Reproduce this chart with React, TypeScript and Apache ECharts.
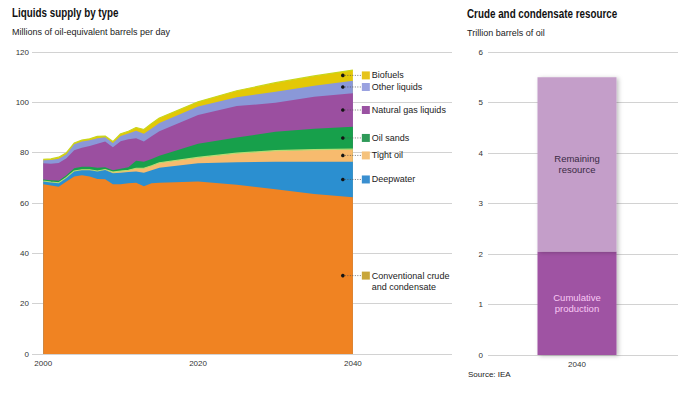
import React, { useEffect, useRef } from "react";
import * as echarts from "echarts";

// ---------- data ----------
const years = [2000, 2001, 2002, 2003, 2004, 2005, 2006, 2007, 2008, 2009, 2010, 2011, 2012, 2013, 2014, 2015, 2020, 2025, 2030, 2035, 2040];
const conventional = [67.5, 67.0, 66.5, 68.5, 70.5, 71.0, 70.5, 69.5, 69.4, 67.5, 67.5, 67.8, 68.0, 66.7, 67.8, 68.0, 68.5, 67.3, 65.5, 63.6, 62.3];
const deepwater = [1.0, 1.1, 1.3, 1.4, 2.0, 2.0, 2.5, 3.0, 3.7, 4.3, 4.5, 4.5, 4.5, 5.3, 5.2, 6.0, 7.3, 8.9, 10.9, 12.8, 14.1];
const tightOil = [0.2, 0.2, 0.2, 0.2, 0.2, 0.2, 0.2, 0.2, 0.2, 0.5, 0.7, 0.7, 1.3, 1.8, 1.8, 2.0, 2.3, 3.6, 4.4, 4.8, 5.0];
const oilSands = [0.6, 0.7, 0.8, 0.9, 1.1, 1.2, 1.2, 1.3, 0.9, 0.7, 0.9, 1.2, 3.0, 2.6, 2.7, 2.8, 5.4, 6.2, 7.5, 8.3, 8.9];
const naturalGasLiquids = [6.5, 6.6, 7.1, 6.8, 7.2, 7.6, 8.2, 9.5, 10.2, 9.2, 10.9, 11.1, 8.9, 8.0, 9.0, 9.7, 11.5, 12.5, 11.5, 12.7, 13.3];
const otherLiquids = [1.2, 1.5, 1.7, 1.6, 2.3, 2.4, 2.3, 2.2, 1.7, 1.6, 2.1, 2.3, 3.0, 3.1, 3.1, 3.3, 3.3, 3.5, 4.4, 4.4, 5.0];
const biofuels = [0.3, 0.4, 0.6, 0.6, 0.5, 0.6, 0.6, 0.8, 0.5, 0.6, 0.9, 0.9, 1.3, 1.7, 2.0, 2.0, 1.9, 2.6, 3.6, 3.9, 4.2];

const leftTicks = [2000, 2020, 2040];

const resourceCategories = ["2040"];
const cumulativeProduction = [2.05];
const remainingResource = [3.45];

// ---------- styling ----------
const FONT = "'Liberation Sans', Arial, Helvetica, sans-serif";

const areaSeriesDefs = [
  { name: "Conventional crude\nand condensate", data: conventional, color: "#f08322", key: "#c8a63a", edge: null as string | null },
  { name: "Deepwater", data: deepwater, color: "#2b8fd0", key: "#3a8fd0", edge: null },
  { name: "Tight oil", data: tightOil, color: "#f7bb6e", key: "#f5c27c", edge: "#b6dc74" },
  { name: "Oil sands", data: oilSands, color: "#17a04b", key: "#2e9a58", edge: null },
  { name: "Natural gas liquids", data: naturalGasLiquids, color: "#9b4fa0", key: "#9a52a2", edge: null },
  { name: "Other liquids", data: otherLiquids, color: "#8a98d8", key: "#9aa2e0", edge: null },
  { name: "Biofuels", data: biofuels, color: "#e3c806", key: "#e6c31a", edge: "#c9d61c" },
];

export default function App() {
  const ref = useRef<HTMLDivElement>(null);

  useEffect(() => {
    document.body.style.margin = "0";
    if (!ref.current) return;
    const chart = echarts.init(ref.current, null, { renderer: "svg" });

    const axisLabelStyle = { fontSize: 8, color: "#333", fontFamily: FONT };

    // cumulative tops (stack built from the data arrays)
    const running = years.map(() => 0);
    const n = areaSeriesDefs.length;
    const areaSeries = areaSeriesDefs.map((s, idx) => {
      const tops = years.map((y, i) => {
        running[i] += s.data[i];
        return [y, +running[i].toFixed(3)];
      });
      return {
        type: "line",
        name: s.name,
        xAxisIndex: 0,
        yAxisIndex: 0,
        symbol: "none",
        lineStyle: s.edge ? { width: 1.2, color: s.edge } : { width: 0 },
        areaStyle: { color: s.color, opacity: 1 },
        itemStyle: { color: s.color },
        data: tops,
        z: 2 + (n - idx),
      };
    });

    const option: any = {
      animation: false,
      backgroundColor: "#ffffff",
      grid: [
        { left: 32, right: 248, top: 52, bottom: 43 },
        { left: 488, right: 22, top: 52, bottom: 42 },
        { left: 488, width: 178, top: 52, bottom: 42 },
      ],
      xAxis: [
        {
          type: "value",
          gridIndex: 0,
          min: 1998.55,
          max: 2052.8,
          axisLine: { show: false },
          axisTick: { show: false },
          splitLine: { show: false },
          axisLabel: { ...axisLabelStyle, margin: 5, customValues: leftTicks, formatter: (v: number) => String(v) },
        },
        { type: "value", gridIndex: 1, show: false },
        {
          type: "category",
          gridIndex: 2,
          data: resourceCategories,
          axisLine: { show: false },
          axisTick: { show: false },
          axisLabel: { ...axisLabelStyle, margin: 5 },
        },
      ],
      yAxis: [
        {
          type: "value",
          gridIndex: 0,
          min: 0,
          max: 120,
          interval: 20,
          axisLine: { show: false },
          axisTick: { show: false },
          axisLabel: { ...axisLabelStyle, margin: 3 },
          splitLine: { lineStyle: { color: "#d2d2d2", width: 1 } },
        },
        {
          type: "value",
          gridIndex: 1,
          min: 0,
          max: 6,
          interval: 1,
          axisLine: { show: false },
          axisTick: { show: false },
          axisLabel: { ...axisLabelStyle, margin: 5 },
          splitLine: { lineStyle: { color: "#d2d2d2", width: 1 } },
        },
        { type: "value", gridIndex: 2, min: 0, max: 6, show: false },
      ],
      series: [
        ...areaSeries,
        {
          type: "bar",
          name: "Cumulative production",
          xAxisIndex: 2,
          yAxisIndex: 2,
          stack: "resource",
          barWidth: 79,
          data: cumulativeProduction,
          itemStyle: {
            color: "#9f52a3",
            shadowBlur: 4,
            shadowColor: "rgba(0,0,0,0.25)",
            shadowOffsetX: 2,
            shadowOffsetY: 1,
          },
          label: {
            show: true,
            position: "inside",
            formatter: "Cumulative\nproduction",
            color: "#f9c8f4",
            fontSize: 9.5,
            lineHeight: 11,
            fontFamily: FONT,
          },
        },
        {
          type: "bar",
          name: "Remaining resource",
          xAxisIndex: 2,
          yAxisIndex: 2,
          stack: "resource",
          barWidth: 79,
          data: remainingResource,
          itemStyle: {
            color: "#c49ec9",
            shadowBlur: 4,
            shadowColor: "rgba(0,0,0,0.25)",
            shadowOffsetX: 2,
            shadowOffsetY: 1,
          },
          label: {
            show: true,
            position: "inside",
            formatter: "Remaining\nresource",
            color: "#3a2a44",
            fontSize: 9.5,
            lineHeight: 11,
            fontFamily: FONT,
          },
        },
      ],
    };

    chart.setOption(option);

    // ---------- legend & texts ----------
    const graphics: any[] = [];
    const titleText = (text: string, x: number, y: number) => ({
      type: "text",
      x,
      y,
      scaleX: 0.82,
      z: 100,
      style: { text, fontSize: 12, fontWeight: "bold", fontFamily: FONT, fill: "#111", verticalAlign: "middle" },
    });
    const subText = (text: string, x: number, y: number, size = 9) => ({
      type: "text",
      x,
      y,
      z: 100,
      style: { text, fontSize: size, fontFamily: FONT, fill: "#222", verticalAlign: "middle" },
    });
    graphics.push(titleText("Liquids supply by type", 12, 13));
    graphics.push(subText("Millions of oil-equivalent barrels per day", 12, 32));
    graphics.push(titleText("Crude and condensate resource", 467, 14));
    graphics.push(subText("Trillion barrels of oil", 467, 33));
    graphics.push(subText("Source: IEA", 468, 374, 8));

    const last = years.length - 1;
    const dotYear = 2038.7;
    let base = 0;
    areaSeriesDefs.forEach((s) => {
      const v = s.data[last];
      const mid = base + v / 2;
      base += v;
      const p = chart.convertToPixel({ xAxisIndex: 0, yAxisIndex: 0 }, [dotYear, mid]) as number[];
      const px = p[0];
      const py = p[1];
      const sqX = px + 19;
      graphics.push({ type: "circle", z: 100, shape: { cx: px, cy: py, r: 1.8 }, style: { fill: "#141414" } });
      graphics.push({
        type: "line",
        z: 100,
        shape: { x1: px + 2, y1: py, x2: sqX, y2: py },
        style: { stroke: "#555", lineWidth: 0.8, lineDash: [1, 1.5] },
      });
      graphics.push({ type: "rect", z: 100, shape: { x: sqX, y: py - 4, width: 8, height: 8 }, style: { fill: s.key } });
      const multi = s.name.indexOf("\n") >= 0;
      graphics.push({
        type: "text",
        z: 100,
        x: sqX + 10,
        y: multi ? py - 5.5 : py,
        style: {
          text: s.name,
          fontSize: 9,
          lineHeight: 11,
          fontFamily: FONT,
          fill: "#222",
          verticalAlign: multi ? "top" : "middle",
        },
      });
    });

    chart.setOption({ graphic: graphics });

    return () => {
      chart.dispose();
    };
  }, []);

  return (
    <div
      ref={ref}
      style={{ position: "fixed", left: 0, top: 0, width: 700, height: 397, background: "#fff" }}
    />
  );
}
